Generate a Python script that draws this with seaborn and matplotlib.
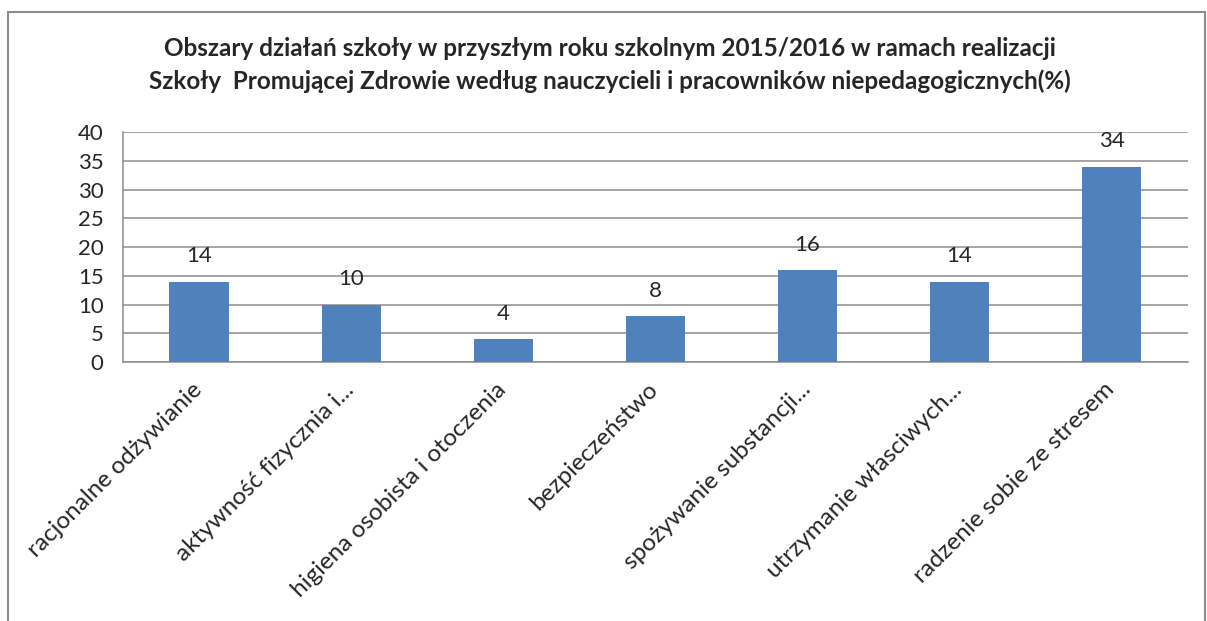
import matplotlib
matplotlib.use("Agg")
import matplotlib.pyplot as plt
import matplotlib.transforms as mtransforms
import pandas as pd
import seaborn as sns
from matplotlib.patches import Rectangle

kategorie = ['racjonalne odżywianie', 'aktywność fizycznia i...', 'higiena osobista i otoczenia',
             'bezpieczeństwo', 'spożywanie substancji...', 'utrzymanie własciwych...',
             'radzenie sobie ze stresem']
procent = [14, 10, 4, 8, 16, 14, 34]
y_ticks = [0, 5, 10, 15, 20, 25, 30, 35, 40]

tytul = ('Obszary działań szkoły w przyszłym roku szkolnym 2015/2016 w ramach realizacji\n'
         'Szkoły  Promującej Zdrowie według nauczycieli i pracowników niepedagogicznych(%)')

df = pd.DataFrame({'Obszar': kategorie, 'Procent': procent})

sns.set_style("white")
plt.rcParams['font.family'] = ['Lato', 'DejaVu Sans']

fig = plt.figure(figsize=(12.07, 6.21), dpi=100)
ax = fig.add_axes([0.102, 0.417, 0.882, 0.370])

sns.barplot(x='Obszar', y='Procent', data=df, color='#4F81BD', width=0.39,
            saturation=1, linewidth=0, ax=ax, zorder=3)

ax.set_ylim(0, 40)
ax.set_yticks(y_ticks)
ax.yaxis.grid(True, color='#8c8c8c', linewidth=1.1, zorder=0)
ax.set_axisbelow(True)
for side in ['top', 'right']:
    ax.spines[side].set_visible(False)
for side in ['left', 'bottom']:
    ax.spines[side].set_color('#8c8c8c')
    ax.spines[side].set_linewidth(1.1)
ax.set_xlabel('')
ax.set_ylabel('')
ax.tick_params(axis='y', labelsize=16, length=0, pad=14)
ax.tick_params(axis='x', labelsize=17.5, length=0, pad=12)
przesun = mtransforms.ScaledTranslation(-8 / 100, 0, fig.dpi_scale_trans)
for lab in ax.get_xticklabels():
    lab.set_rotation(45)
    lab.set_ha('right')
    lab.set_rotation_mode('anchor')
    lab.set_transform(lab.get_transform() + przesun)

for i, v in enumerate(procent):
    ax.annotate(str(v), (i, v), xytext=(0, 11), textcoords='offset points',
                ha='center', va='bottom', fontsize=16)

fig.text(0.505, 0.895, tytul, ha='center', va='center', fontsize=17.5,
         fontweight='bold', linespacing=1.45)

fig.patches.append(Rectangle((8 / 1207, -0.1), 1197 / 1207, 1 - 12 / 621 + 0.1,
                             transform=fig.transFigure, fill=False,
                             edgecolor='#8c8c8c', linewidth=1.5))

fig.savefig('out.png', dpi=100)
